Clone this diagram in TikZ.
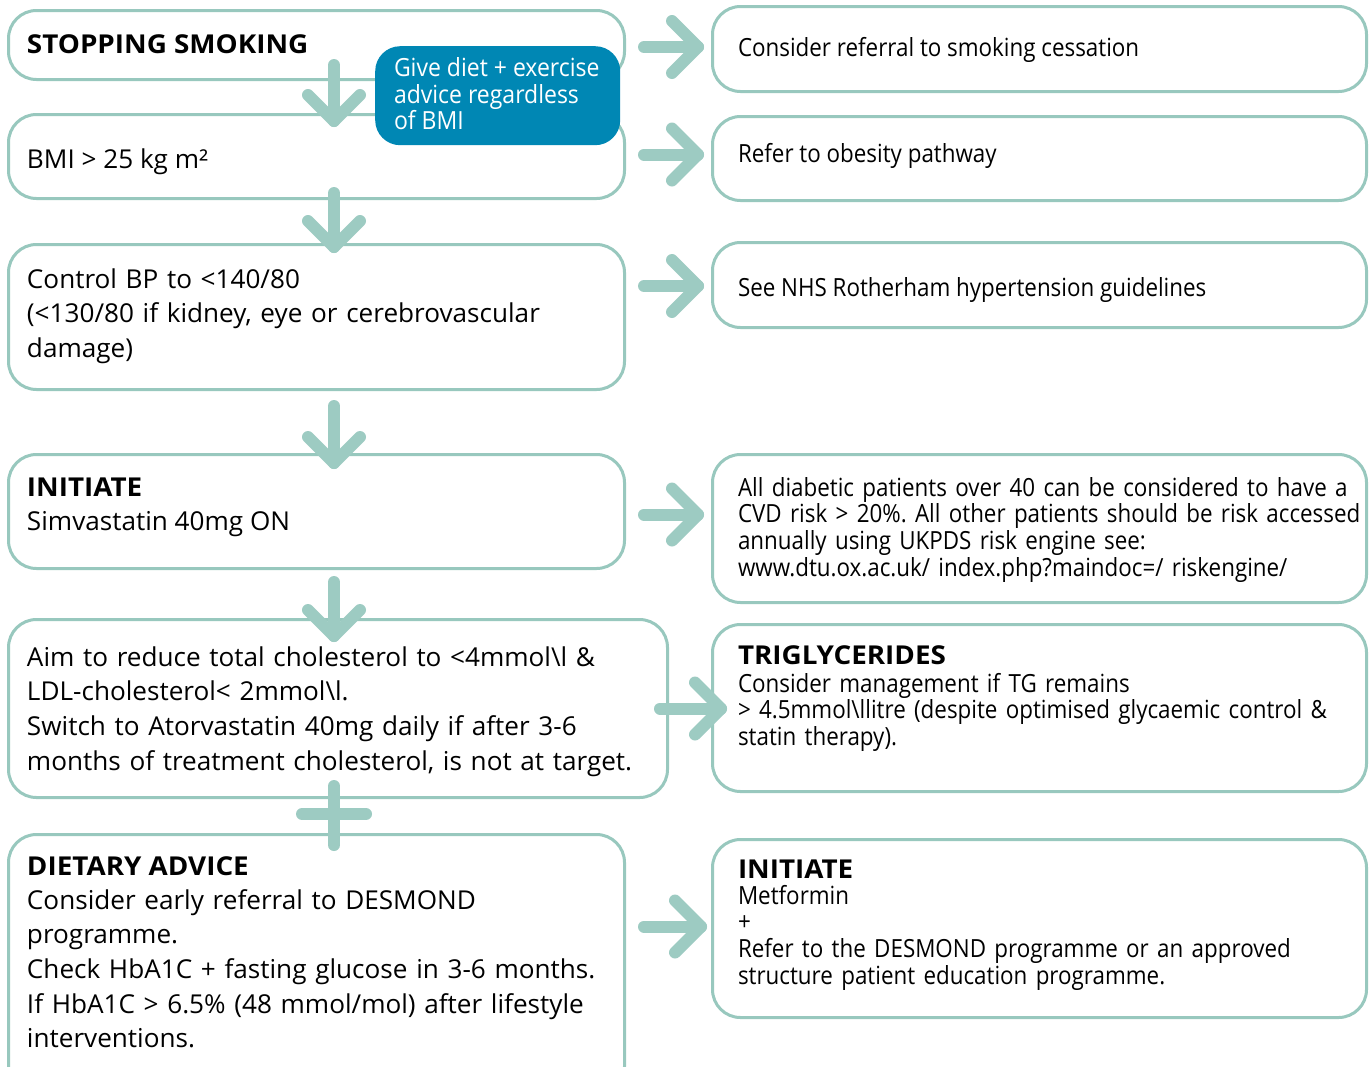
\documentclass[tikz,border=0pt]{standalone}
\usepackage{fontspec}
\setmainfont{Open Sans}
\newfontfamily\bodyfont{Open Sans}[FakeStretch=1.005]
\newfontfamily\condfont{Open Sans}[FakeStretch=0.895]
\newfontfamily\advfont{Open Sans}[FakeStretch=0.92]
\newfontfamily\headfont{Open Sans}[FakeStretch=1.07]
\frenchspacing
\usetikzlibrary{calc}
\definecolor{flowteal}{RGB}{157,203,194}
\definecolor{edgeteal}{RGB}{152,200,190}
\definecolor{adviceblue}{RGB}{0,135,180}
\tikzset{
  box/.style={draw=edgeteal, line width=3pt, rounded corners=28pt, anchor=north west,
              inner sep=0pt, fill=white},
  flow/.style={draw=flowteal, line width=12pt, line cap=round, line join=round},
  txt/.style={anchor=base west, inner sep=0pt, outer sep=0pt},
  multi/.style={text width=660pt, align=left},
  lefttext/.style={txt, font=\bodyfont\fontsize{26}{34.7}\selectfont},
  righttext/.style={txt, font=\condfont\fontsize{25}{26.7}\selectfont},
  headtext/.style={txt, font=\headfont\bfseries\fontsize{26}{28}\selectfont},
  advicetext/.style={txt, text=white, font=\advfont\fontsize{25}{26.5}\selectfont},
}
\begin{document}
\begin{tikzpicture}[x=1pt, y=-1pt]
\clip (0,0) rectangle (1371,1066);
\fill[white] (0,0) rectangle (1371,1066);

% left column
\node[box, minimum width=616pt, minimum height=69pt]  (b1) at (7,9)   {};
\node[box, minimum width=616pt, minimum height=84pt]  (b2) at (7,113) {};
\node[box, minimum width=616pt, minimum height=145pt] (b3) at (7,243) {};
\node[box, minimum width=616pt, minimum height=114pt] (b4) at (7,453) {};
\node[box, minimum width=659pt, minimum height=178pt] (b5) at (7,618) {};
\node[box, minimum width=616pt, minimum height=260pt] (b6) at (7,833) {};

% right column
\node[box, minimum width=654pt, minimum height=85pt]  (r1) at (711,5)   {};
\node[box, minimum width=654pt, minimum height=84pt]  (r2) at (711,115) {};
\node[box, minimum width=654pt, minimum height=85pt]  (r3) at (711,241) {};
\node[box, minimum width=654pt, minimum height=148pt] (r4) at (711,453) {};
\node[box, minimum width=654pt, minimum height=167pt] (r5) at (711,623) {};
\node[box, minimum width=654pt, minimum height=178pt] (r6) at (711,838) {};

% texts, left column
\node[headtext] (t1) at (27,53) {STOPPING SMOKING};
\node[lefttext] (t2) at (27,168) {BMI > 25 kg m²};
\node[lefttext, multi] (t3) at (27,288) {Control BP to <140/80\\(<130/80 if kidney, eye or cerebrovascular\\damage)};
\node[headtext] (t4h) at (27,496) {INITIATE};
\node[lefttext] (t4) at (27,530) {Simvastatin 40mg ON};
\node[lefttext, multi] (t5) at (27,666) {Aim to reduce total cholesterol to <4mmol\textbackslash l \&\\LDL-cholesterol< 2mmol\textbackslash l.\\Switch to Atorvastatin 40mg daily if after 3-6\\months of treatment cholesterol, is not at target.};
\node[headtext] (t6h) at (27,875) {DIETARY ADVICE};
\node[lefttext, multi] (t6) at (27,909) {Consider early referral to DESMOND\\programme.\\Check HbA1C + fasting glucose in 3-6 months.\\If HbA1C > 6.5\% (48 mmol/mol) after lifestyle\\interventions.};

% texts, right column
\node[righttext] (s1) at (738,56) {Consider referral to smoking cessation};
\node[righttext] (s2) at (738,162) {Refer to obesity pathway};
\node[righttext] (s3) at (738,296) {See NHS Rotherham hypertension guidelines};
\node[righttext, multi] (s4) at (738,496) {All diabetic patients over 40 can be considered to have a\\CVD risk > 20\%. All other patients should be risk accessed\\annually using UKPDS risk engine see:\\www.dtu.ox.ac.uk/ index.php?maindoc=/ riskengine/};
\node[headtext] (s5h) at (738,664) {TRIGLYCERIDES};
\node[righttext, multi] (s5) at (738,692) {Consider management if TG remains\\> 4.5mmol\textbackslash llitre (despite optimised glycaemic control \&\\statin therapy).};
\node[headtext] (s6h) at (738,878) {INITIATE};
\node[righttext, multi] (s6) at (738,904) {Metformin\\+\\Refer to the DESMOND programme or an approved\\structure patient education programme.};

% downward flow along the left column
\coordinate (spine) at (334,0);
\draw[flow] ($(spine|-b1.south)+(0,-16)$) -- ($(spine|-b2.north)+(0,8)$) coordinate (d1);
\draw[flow] (d1) ++(-26,-26) -- (d1) -- ++(26,-26);
\draw[flow] ($(spine|-b2.south)+(0,-7)$) -- ($(spine|-b3.north)+(0,4)$) coordinate (d2);
\draw[flow] (d2) ++(-26,-26) -- (d2) -- ++(26,-26);
\draw[flow] ($(spine|-b3.south)+(0,15)$) -- ($(spine|-b4.north)+(0,10)$) coordinate (d3);
\draw[flow] (d3) ++(-26,-26) -- (d3) -- ++(26,-26);
\draw[flow] ($(spine|-b4.south)+(0,12)$) -- ($(spine|-b5.north)+(0,18)$) coordinate (d4);
\draw[flow] (d4) ++(-26,-26) -- (d4) -- ++(26,-26);

% plus sign joining the last two steps
\draw[flow] ($(spine|-b5.south)+(0,-13)$) -- ($(spine|-b6.north)+(0,12)$);
\coordinate (plusc) at ($(spine|-b5.south)!0.5!(spine|-b6.north)+(0,-2)$);
\draw[flow] ($(plusc)+(-32,0)$) -- ($(plusc)+(32,0)$);

% arrows to the right column
\draw[flow] ($(b1.east)+(18,2)$) -- ($(r1.west|-b1.east)+(-13,2)$) coordinate (h1);
\draw[flow] (h1) ++(-26,-26) -- (h1) -- ++(-26,26);
\draw[flow] ($(b2.east)+(18,-2)$) -- ($(r2.west|-b2.east)+(-13,-2)$) coordinate (h2);
\draw[flow] (h2) ++(-26,-26) -- (h2) -- ++(-26,26);
\draw[flow] ($(b3.east|-r3.west)+(18,1)$) -- ($(r3.west)+(-13,1)$) coordinate (h3);
\draw[flow] (h3) ++(-26,-26) -- (h3) -- ++(-26,26);
\draw[flow] ($(b4.east)+(18,3)$) -- ($(r4.west|-b4.east)+(-13,3)$) coordinate (h4);
\draw[flow] (h4) ++(-26,-26) -- (h4) -- ++(-26,26);
\draw[flow] ($(b5.east)+(-9,0)$) -- ($(r5.west|-b5.east)+(10,0)$) coordinate (h5);
\draw[flow] (h5) ++(-26,-26) -- (h5) -- ++(-26,26);
\draw[flow] ($(b6.east|-r6.west)+(18,-2)$) -- ($(r6.west)+(-10,-2)$) coordinate (h6);
\draw[flow] (h6) ++(-26,-26) -- (h6) -- ++(-26,26);

% advice call-out
\node[fill=adviceblue, rounded corners=25pt, minimum width=245pt, minimum height=99pt,
      anchor=north west, inner sep=0pt] (adv) at (375,46) {};
\node[advicetext] (advt1) at (394,76) {Give diet + exercise};
\node[advicetext] (advt2) at (394,103) {advice regardless};
\node[advicetext] (advt3) at (394,129) {of BMI};
\end{tikzpicture}
\end{document}
